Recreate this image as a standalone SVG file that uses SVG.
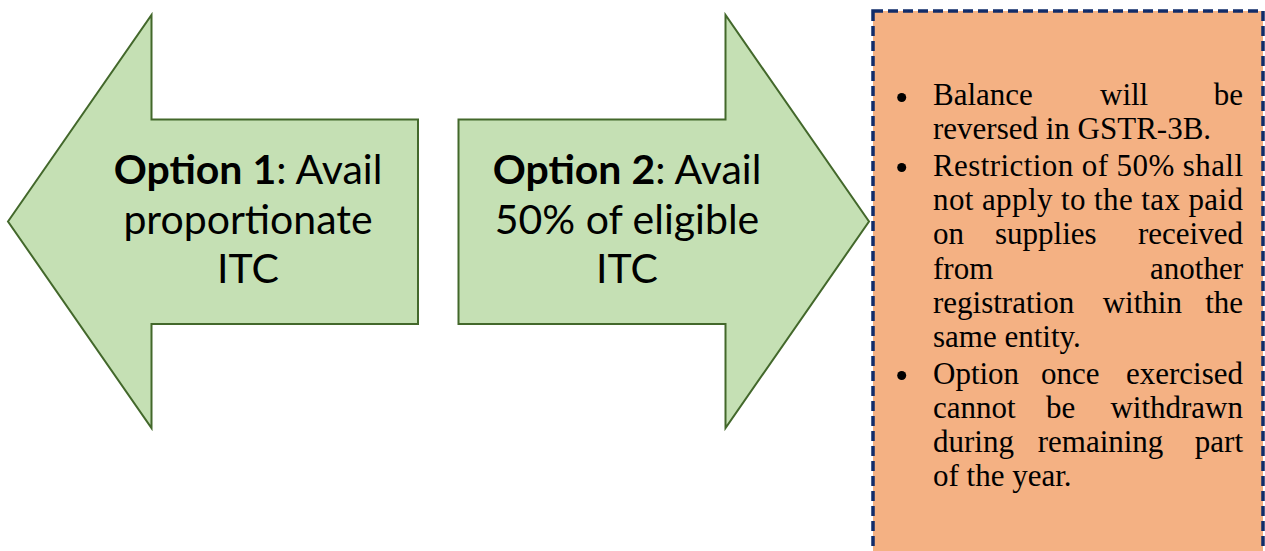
<svg xmlns="http://www.w3.org/2000/svg" width="1265" height="551" viewBox="0 0 1265 551">
<style>
.arrow{fill:#C5E0B4;stroke:#43682B;stroke-width:2;stroke-linejoin:miter}
.lbl{font-family:Lato,"Liberation Sans",sans-serif;font-size:41px;fill:#000;text-anchor:middle}
.b{font-weight:bold}
.box{fill:#F4B183;stroke:#112C6A;stroke-width:3.5;stroke-dasharray:10 5}
.t{font-family:"Liberation Serif",serif;font-size:31px;fill:#000}
.e{text-anchor:end}
.dot{fill:#000}
</style>
<rect width="1265" height="551" fill="#fff"/>
<g id="option1">
<polygon class="arrow" points="8,221.5 151.5,15 151.5,119.5 418,119.5 418,324 151.5,324 151.5,428"/>
<text class="lbl" x="248" y="184"><tspan class="b">Option 1</tspan>: Avail</text>
<text class="lbl" x="248" y="233.5">proportionate</text>
<text class="lbl" x="248" y="283">ITC</text>
</g>
<g id="option2">
<polygon class="arrow" points="458.5,119.5 725.5,119.5 725.5,15 869,221.5 725.5,428 725.5,324 458.5,324"/>
<text class="lbl" x="627" y="184"><tspan class="b">Option 2</tspan>: Avail</text>
<text class="lbl" x="627" y="233.5">50% of eligible</text>
<text class="lbl" x="627" y="283">ITC</text>
</g>
<g id="notes">
<rect class="box" x="873" y="11" width="390" height="560"/>
<circle class="dot" cx="901.7" cy="97.5" r="4.5"/>
<circle class="dot" cx="901.7" cy="167.5" r="4.5"/>
<circle class="dot" cx="901.7" cy="375.5" r="4.5"/>
<text class="t" x="933" y="105">Balance</text>
<text class="t" x="1100" y="105">will</text>
<text class="t e" x="1243" y="105">be</text>
<text class="t" x="933" y="139">reversed in GSTR-3B.</text>
<text class="t" x="933" y="175.5" textLength="310" lengthAdjust="spacing">Restriction of 50% shall</text>
<text class="t" x="933" y="209.5" textLength="310" lengthAdjust="spacing">not apply to the tax paid</text>
<text class="t" x="933" y="244">on</text>
<text class="t" x="995" y="244">supplies</text>
<text class="t e" x="1243" y="244">received</text>
<text class="t" x="933" y="278.5">from</text>
<text class="t e" x="1243" y="278.5">another</text>
<text class="t" x="933" y="312.5">registration</text>
<text class="t" x="1102.7" y="312.5">within</text>
<text class="t e" x="1243" y="312.5">the</text>
<text class="t" x="933" y="346.5">same entity.</text>
<text class="t" x="933" y="383.5">Option</text>
<text class="t" x="1041" y="383.5">once</text>
<text class="t e" x="1243" y="383.5">exercised</text>
<text class="t" x="933" y="418">cannot</text>
<text class="t" x="1046" y="418">be</text>
<text class="t e" x="1243" y="418">withdrawn</text>
<text class="t" x="933" y="452">during</text>
<text class="t" x="1037.7" y="452">remaining</text>
<text class="t e" x="1243" y="452">part</text>
<text class="t" x="933" y="486">of the year.</text>
</g>
</svg>
